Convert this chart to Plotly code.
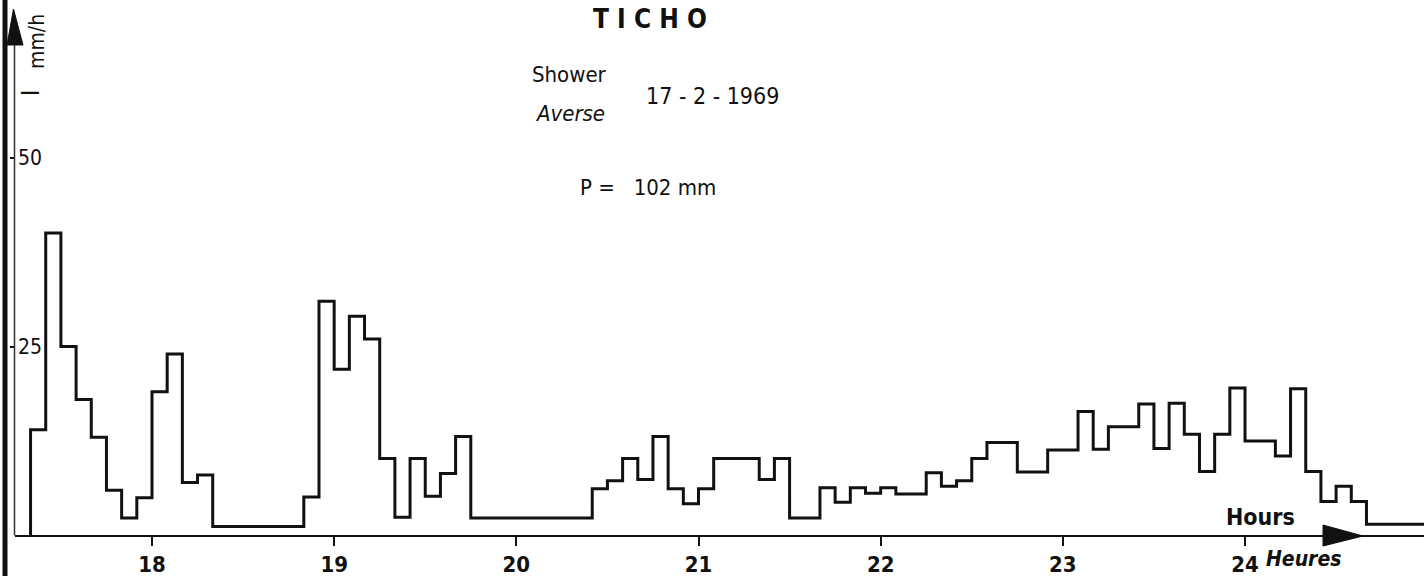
import plotly.graph_objects as go

# Rainfall intensity record, TICHO, shower of 17-2-1969 (5-minute steps)
# Each intensity (mm/h) holds from its start time to the next start time.
step_start = [
    "17:20", "17:25", "17:30", "17:35", "17:40", "17:45", "17:50", "17:55",
    "18:00", "18:05", "18:10", "18:15", "18:20", "18:50", "18:55", "19:00",
    "19:05", "19:10", "19:15", "19:20", "19:25", "19:30", "19:35", "19:40",
    "19:45", "20:25", "20:30", "20:35", "20:40", "20:45", "20:50", "20:55",
    "21:00", "21:05", "21:20", "21:25", "21:30", "21:40", "21:45", "21:50",
    "21:55", "22:00", "22:05", "22:15", "22:20", "22:25", "22:30", "22:35",
    "22:45", "22:55", "23:05", "23:10", "23:15", "23:25", "23:30", "23:35",
    "23:40", "23:45", "23:50", "23:55", "24:00", "24:10", "24:15", "24:20",
    "24:25", "24:30", "24:35", "24:40",
]
intensity = [
    14, 40, 25, 18, 13, 6, 2.3, 5,
    19, 24, 7, 8, 1.2, 5.1, 31, 22,
    29, 26, 10.2, 2.4, 10.2, 5.2, 8.2, 13.1,
    2.3, 6.2, 7.25, 10.2, 7.4, 13.1, 6.2, 4.2,
    6.2, 10.2, 7.4, 10.2, 2.3, 6.3, 4.4, 6.3,
    5.6, 6.3, 5.5, 8.3, 6.5, 7.25, 10.2, 12.3,
    8.4, 11.3, 16.4, 11.4, 14.4, 17.4, 11.5, 17.5,
    13.4, 8.45, 13.4, 19.5, 12.5, 10.5, 19.4, 8.45,
    4.5, 6.5, 4.5, 1.5,
]
record_end = "25:00"

hour_ticks = [18, 19, 20, 21, 22, 23, 24]
hour_labels = ["18", "19", "20", "21", "22", "23", "24"]
intensity_ticks = [25, 50]
intensity_labels = ["25", "50"]


def to_hours(hhmm):
    h, m = hhmm.split(":")
    return int(h) + int(m) / 60.0


t = [to_hours(s) for s in step_start]
t_end = to_hours(record_end)

# step outline: rise from zero at the first time, then hold each value
xs = [t[0]] + t + [t_end]
ys = [0] + intensity + [intensity[-1]]

W, H = 1424, 576
FONT = "DejaVu Sans Condensed, Liberation Sans Narrow, Arial Narrow, sans-serif"
INK = "#111111"


def fx(p):
    return p / W


def fy(p):
    return 1 - p / H


# axis geometry (pixels): hour 18 at x=152, 182.17 px per hour; zero at y=535.5, 7.56 px per mm/h
x_left_px = 15
px_per_h = 182.17
x_range = [18 - (152 - x_left_px) / px_per_h, 18 + (W - 152) / px_per_h]
px_per_mmh = 7.56
y_range = [-(H - 535.5) / px_per_mmh, 535.5 / px_per_mmh]

fig = go.Figure()
fig.add_trace(go.Scatter(
    x=xs, y=ys, mode="lines", line=dict(shape="hv", color=INK, width=3),
    hoverinfo="skip", showlegend=False,
))

fig.update_layout(
    width=W, height=H,
    margin=dict(l=0, r=0, t=0, b=0),
    paper_bgcolor="white", plot_bgcolor="white",
    showlegend=False,
    xaxis=dict(
        domain=[x_left_px / W, 1], range=x_range,
        anchor="free", position=fy(535.5),
        showline=True, linecolor=INK, linewidth=2,
        ticks="outside", ticklen=9, tickwidth=1.5, tickcolor=INK,
        tickvals=hour_ticks, ticktext=hour_labels,
        tickfont=dict(family=FONT, size=22, color=INK, weight="bold"),
        showgrid=False, zeroline=False,
    ),
    yaxis=dict(
        domain=[0, 1], range=y_range, anchor="x",
        showline=False,
        ticks="outside", ticklen=4, tickwidth=1.5, tickcolor=INK,
        tickvals=intensity_ticks, ticktext=intensity_labels,
        ticklabelposition="inside",
        tickfont=dict(family=FONT, size=21, color=INK),
        showgrid=False, zeroline=False,
    ),
)

shapes = [
    # left frame bar
    dict(type="line", xref="paper", yref="paper", x0=fx(5), x1=fx(5), y0=0, y1=1,
         line=dict(color=INK, width=5)),
    # vertical intensity axis
    dict(type="line", xref="paper", yref="paper", x0=fx(14.5), x1=fx(14.5),
         y0=fy(535.5), y1=fy(40), line=dict(color="#333333", width=1.5)),
    # arrow heads
    dict(type="path", xref="paper", yref="paper",
         path=f"M {fx(7)},{fy(45)} L {fx(13.5)},{fy(9)} L {fx(23)},{fy(45)} Z",
         fillcolor=INK, line=dict(color=INK, width=1)),
    dict(type="path", xref="paper", yref="paper",
         path=f"M {fx(1323)},{fy(525)} L {fx(1363)},{fy(536)} L {fx(1323)},{fy(546)} Z",
         fillcolor=INK, line=dict(color=INK, width=1)),
]
fig.update_layout(shapes=shapes)


def label(text, x, y, size, angle=0, bold=False, italic=False):
    if bold:
        text = f"<b>{text}</b>"
    if italic:
        text = f"<i>{text}</i>"
    fig.add_annotation(
        x=fx(x), y=fy(y), xref="paper", yref="paper", text=text, showarrow=False,
        xanchor="center", yanchor="middle", textangle=angle,
        font=dict(family=FONT, size=size, color=INK),
    )


label("T I C H O", 650, 19, 26, bold=True)
label("Shower", 569, 74, 22)
label("Averse", 570, 113, 22, italic=True)
label("17 - 2 - 1969", 712, 96, 23)
label("P =\u00a0\u00a0 102 mm", 648, 188, 22)
label("I", 31, 93, 24, angle=-90)
label("mm/h", 37, 42, 21, angle=-90)
label("Hours", 1260, 517, 23, bold=True)
label("Heures", 1303, 559, 21, bold=True, italic=True)

fig.write_html("out.html")
